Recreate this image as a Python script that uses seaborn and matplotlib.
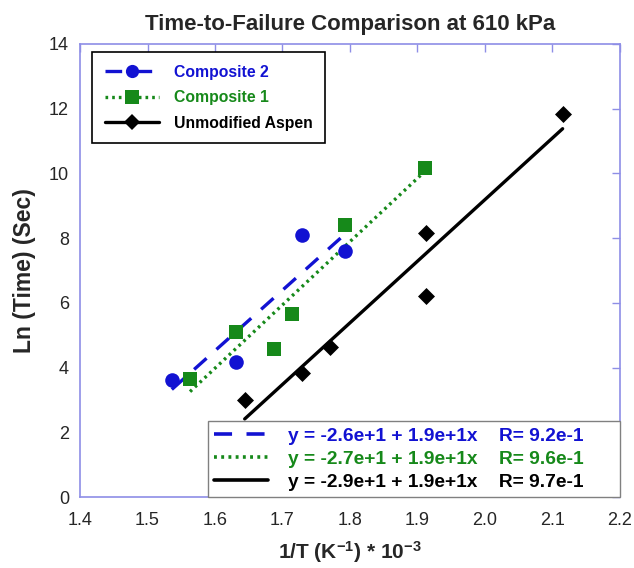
import numpy as np
import pandas as pd
import seaborn as sns
import matplotlib
matplotlib.use("Agg")
import matplotlib.pyplot as plt
from matplotlib.lines import Line2D

# ---- data ----
comp2_x = [1.536, 1.631, 1.729, 1.793]
comp2_y = [3.62, 4.17, 8.10, 7.60]

comp1_x = [1.563, 1.631, 1.687, 1.714, 1.793, 1.911]
comp1_y = [3.65, 5.10, 4.57, 5.66, 8.41, 10.17]

aspen_x = [1.644, 1.729, 1.770, 1.912, 1.912, 2.115]
aspen_y = [3.00, 3.82, 4.63, 8.17, 6.21, 11.84]

series_names = ["Composite 2", "Composite 1", "Unmodified Aspen"]
fit_labels = [
    "y = -2.6e+1 + 1.9e+1x    R= 9.2e-1",
    "y = -2.7e+1 + 1.9e+1x    R= 9.6e-1",
    "y = -2.9e+1 + 1.9e+1x    R= 9.7e-1",
]
x_ticks = [1.4, 1.5, 1.6, 1.7, 1.8, 1.9, 2.0, 2.1, 2.2]
y_ticks = [0, 2, 4, 6, 8, 10, 12, 14]

title = "Time-to-Failure Comparison at 610 kPa"
xlabel = r"1/T (K$^{\mathbf{-1}}$) * 10$^{\mathbf{-3}}$"
ylabel = "Ln (Time) (Sec)"

# ---- style ----
sns.set_style("white")
plt.rcParams["font.family"] = ["Liberation Sans", "DejaVu Sans"]
plt.rcParams["mathtext.fontset"] = "custom"
plt.rcParams["mathtext.rm"] = "Liberation Sans"
plt.rcParams["mathtext.bf"] = "Liberation Sans:bold"
plt.rcParams["mathtext.default"] = "bf"

BLUE = "#1212d2"
GREEN = "#16891a"
BLACK = "#000000"
SPINE = "#8e8ee6"

colors = [BLUE, GREEN, BLACK]
markers = ["o", "s", "D"]
msizes = [110, 110, 75]
styles = [(0, (5, 4)), (0, (0.8, 1.2)), "-"]
xs = [comp2_x, comp1_x, aspen_x]
ys = [comp2_y, comp1_y, aspen_y]

fig = plt.figure(figsize=(6.34, 5.68), dpi=100)
ax = fig.add_axes([80 / 634, 1 - 497 / 568, 540 / 634, 453 / 568])

for x, y, c, ls in zip(xs, ys, colors, styles):
    sns.regplot(x=np.array(x), y=np.array(y), ax=ax, ci=None, scatter=False,
                truncate=True,
                line_kws=dict(color=c, linestyle=ls, linewidth=2.4, zorder=2))

for x, y, c, m, s in zip(xs, ys, colors, markers, msizes):
    sns.scatterplot(x=x, y=y, ax=ax, color=c, marker=m, s=s, linewidth=0,
                    zorder=3)

ax.set_xlim(1.4, 2.2)
ax.set_ylim(0, 14)
ax.set_xticks(x_ticks)
ax.set_xticklabels([f"{t:.1f}" for t in x_ticks])
ax.set_yticks(y_ticks)
ax.set_yticklabels([str(t) for t in y_ticks])
ax.tick_params(direction="in", length=6, width=1, color=SPINE,
               top=True, right=True, labelsize=13)
ax.tick_params(axis="x", pad=11)
ax.tick_params(axis="y", pad=8)
for sp in ax.spines.values():
    sp.set_color(SPINE)
    sp.set_linewidth(1.2)

ax.set_title(title, fontsize=16, fontweight="bold", pad=10)
ax.set_xlabel(xlabel, fontsize=15, fontweight="bold", labelpad=7)
ax.set_ylabel(ylabel, fontsize=16.5, fontweight="bold", labelpad=9)

# legend 1: series with markers
h1 = [Line2D([], [], color=c, linestyle=ls, linewidth=2.4, marker=m,
             markersize=9.5 if m != "D" else 8, markeredgewidth=0)
      for c, ls, m in zip(colors, styles, markers)]
leg1 = ax.legend(h1, series_names, loc="upper left",
                 bbox_to_anchor=(12 / 540, 1 - 8 / 453), borderaxespad=0,
                 fancybox=False, frameon=True, edgecolor="black",
                 prop=dict(size=11.3, weight="bold"), handlelength=3.5,
                 handletextpad=0.9, borderpad=0.8, labelspacing=0.68,
                 framealpha=1)
leg1.get_frame().set_linewidth(1.2)
for t, c in zip(leg1.get_texts(), colors):
    t.set_color(c)
ax.add_artist(leg1)

# legend 2: fit lines (left edge of the box placed as in the reference)
h2 = [Line2D([], [], color=c, linestyle=ls, linewidth=2.6)
      for c, ls in zip(colors, styles)]
leg2 = ax.legend(h2, fit_labels, loc="lower left",
                 bbox_to_anchor=(128 / 540, 0, 1 - 128 / 540, 1),
                 mode="expand",
                 borderaxespad=0, fancybox=False, frameon=True,
                 edgecolor="#808080", prop=dict(size=13.8, weight="bold"),
                 handlelength=2.8, handletextpad=1.05, borderpad=0.32,
                 labelspacing=0.3, framealpha=1)
leg2.get_frame().set_linewidth(1.0)
for t, c in zip(leg2.get_texts(), colors):
    t.set_color(c)

fig.savefig("out.png", dpi=100)
